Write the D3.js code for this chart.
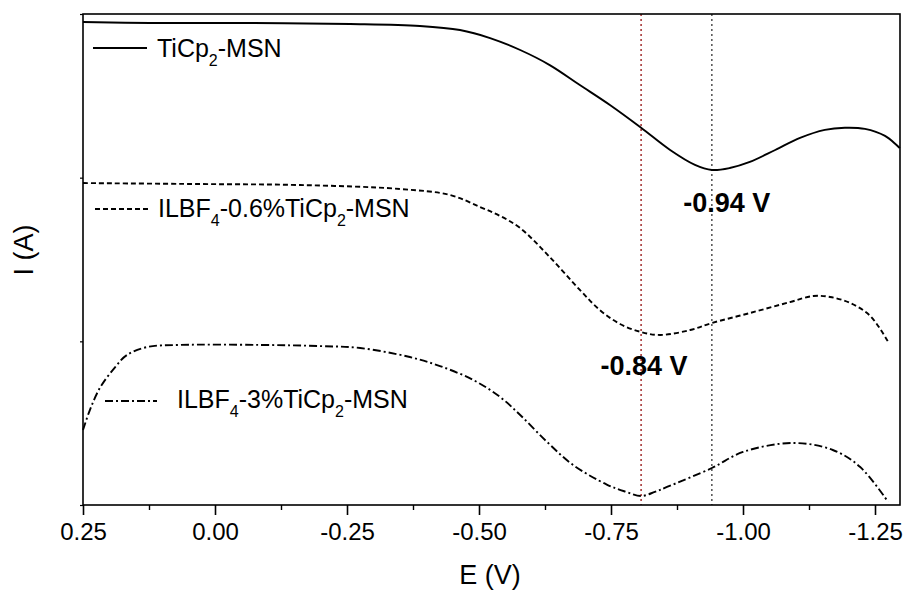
<!DOCTYPE html>
<html>
<head>
<meta charset="utf-8">
<script src="https://cdn.jsdelivr.net/npm/d3@7"></script>
<style>
  html, body { margin: 0; padding: 0; background: #fff; }
  svg { display: block; font-family: "Liberation Sans", Arial, Helvetica, sans-serif; }
</style>
</head>
<body>
<svg id="chart" width="904" height="593"></svg>
<script>
// ---- Data (E in V, I in arbitrary units, curves offset for display) ----
const xTicks = [0.25, 0.00, -0.25, -0.50, -0.75, -1.00, -1.25];
const xTickLabels = ["0.25", "0.00", "-0.25", "-0.50", "-0.75", "-1.00", "-1.25"];
const xMinorTicks = [0.125, -0.125, -0.375, -0.625, -0.875, -1.125];
const yTicks = [0, 1, 2, 3];

const seriesNames = ["TiCp2-MSN", "ILBF4-0.6%TiCp2-MSN", "ILBF4-3%TiCp2-MSN"];

const tiEV = [0.25, 0.123, -0.066, -0.256, -0.388, -0.464, -0.521, -0.578, -0.634, -0.691, -0.748, -0.807, -0.862, -0.909, -0.941, -0.975, -1.013, -1.061, -1.108, -1.155, -1.193, -1.231, -1.269, -1.297];
const tiI  = [2.951, 2.945, 2.945, 2.939, 2.927, 2.902, 2.853, 2.780, 2.688, 2.566, 2.444, 2.305, 2.169, 2.078, 2.047, 2.059, 2.096, 2.169, 2.243, 2.292, 2.305, 2.298, 2.255, 2.181];

const il06EV = [0.25, 0.028, -0.161, -0.350, -0.445, -0.502, -0.540, -0.578, -0.634, -0.691, -0.729, -0.767, -0.807, -0.843, -0.900, -0.941, -1.013, -1.089, -1.133, -1.165, -1.203, -1.241, -1.275];
const il06I  = [1.967, 1.961, 1.955, 1.931, 1.894, 1.821, 1.766, 1.692, 1.515, 1.314, 1.191, 1.106, 1.057, 1.039, 1.069, 1.112, 1.173, 1.240, 1.277, 1.271, 1.234, 1.155, 0.996];

const il3EV = [0.25, 0.237, 0.218, 0.189, 0.167, 0.129, 0.066, -0.085, -0.199, -0.275, -0.369, -0.426, -0.489, -0.540, -0.578, -0.629, -0.678, -0.742, -0.777, -0.807, -0.833, -0.856, -0.941, -1.000, -1.095, -1.170, -1.222, -1.275];
const il3I  = [0.458, 0.580, 0.715, 0.843, 0.916, 0.965, 0.978, 0.978, 0.971, 0.959, 0.904, 0.849, 0.764, 0.660, 0.550, 0.385, 0.245, 0.125, 0.082, 0.055, 0.080, 0.110, 0.226, 0.324, 0.379, 0.336, 0.232, 0.018];

const peakLines = [-0.807, -0.941];
const peakLabels = ["-0.84 V", "-0.94 V"];

// ---- Layout ----
const svg = d3.select("#chart");
const L = 83, R = 900, T = 14, B = 505;
const x = d3.scaleLinear().domain([0.25, -1.30]).range([L, L + 1.55 * 528]);
const y = d3.scaleLinear().domain([0, 3]).range([B, T]);

// vertical reference lines
const refColors = ["#9b1c1c", "#444"];
peakLines.forEach((v, i) => {
  svg.append("line")
    .attr("x1", x(v)).attr("x2", x(v))
    .attr("y1", T).attr("y2", B)
    .attr("stroke", refColors[i]).attr("stroke-width", 1.4)
    .attr("stroke-dasharray", "2,3");
});

// curves
const line = d3.line()
  .x(d => x(d[0])).y(d => y(d[1]))
  .curve(d3.curveCatmullRom.alpha(0.5));
const zip = (a, b) => a.map((v, i) => [v, b[i]]);
const curves = [
  { data: zip(tiEV, tiI), dash: null },
  { data: zip(il06EV, il06I), dash: "5,3" },
  { data: zip(il3EV, il3I), dash: "8,3,2,3" }
];
curves.forEach(c => {
  svg.append("path")
    .attr("d", line(c.data))
    .attr("fill", "none").attr("stroke", "#000").attr("stroke-width", 1.9)
    .attr("stroke-dasharray", c.dash);
});

// frame
svg.append("rect").attr("x", L).attr("y", T).attr("width", R - L).attr("height", B - T)
  .attr("fill", "none").attr("stroke", "#000").attr("stroke-width", 1.6);

// x axis
const xAxis = d3.axisBottom(x).tickValues(xTicks).tickSize(10)
  .tickFormat((d, i) => xTickLabels[i]).tickPadding(8);
const gx = svg.append("g").attr("transform", `translate(0,${B})`).call(xAxis);
gx.select(".domain").remove();
gx.selectAll("line").attr("stroke-width", 1.6);
gx.selectAll("text").attr("font-size", 24).attr("font-family", "Liberation Sans, Arial, sans-serif").attr("fill", "#000");
const xMinor = d3.axisBottom(x).tickValues(xMinorTicks).tickSize(5).tickFormat("");
const gxm = svg.append("g").attr("transform", `translate(0,${B})`).call(xMinor);
gxm.select(".domain").remove();
gxm.selectAll("line").attr("stroke-width", 1.4);

// y axis (no labels)
const yAxis = d3.axisLeft(y).tickValues(yTicks).tickSize(3).tickFormat("");
const gy = svg.append("g").attr("transform", `translate(${L},0)`).call(yAxis);
gy.select(".domain").remove();
gy.selectAll("line").attr("stroke-width", 1.2);

// axis titles
svg.append("text").attr("x", 490).attr("y", 584).attr("text-anchor", "middle")
  .attr("font-size", 27).text("E (V)");
svg.append("text").attr("transform", "translate(33,250) rotate(-90)").attr("text-anchor", "middle")
  .attr("font-size", 27).text("I (A)");

// peak labels
svg.append("text").attr("x", x(peakLines[1]) + 15).attr("y", 212).attr("text-anchor", "middle")
  .attr("font-size", 27).attr("font-weight", "bold").text(peakLabels[1]);
svg.append("text").attr("x", x(peakLines[0]) + 3).attr("y", 375).attr("text-anchor", "middle")
  .attr("font-size", 27).attr("font-weight", "bold").text(peakLabels[0]);

// legend
const legend = [
  { x1: 93, x2: 147, ly: 48, tx: 157, ty: 57, dash: null, parts: [["TiCp", 0], ["2", 1], ["-MSN", 0]] },
  { x1: 95, x2: 150, ly: 209, tx: 158, ty: 217, dash: "5,3", parts: [["ILBF", 0], ["4", 1], ["-0.6%TiCp", 0], ["2", 1], ["-MSN", 0]] },
  { x1: 105, x2: 157, ly: 401, tx: 177, ty: 408, dash: "8,3,2,3", parts: [["ILBF", 0], ["4", 1], ["-3%TiCp", 0], ["2", 1], ["-MSN", 0]] }
];
legend.forEach(l => {
  svg.append("line").attr("x1", l.x1).attr("x2", l.x2).attr("y1", l.ly).attr("y2", l.ly)
    .attr("stroke", "#000").attr("stroke-width", 1.9).attr("stroke-dasharray", l.dash);
  const t = svg.append("text").attr("x", l.tx).attr("y", l.ty).attr("font-size", 25);
  let prevSub = 0;
  l.parts.forEach(([s, sub]) => {
    const ts = t.append("tspan").text(s);
    if (sub) { ts.attr("font-size", 16).attr("dy", 9); }
    else if (prevSub) { ts.attr("dy", -9); }
    prevSub = sub;
  });
});
</script>
</body>
</html>
